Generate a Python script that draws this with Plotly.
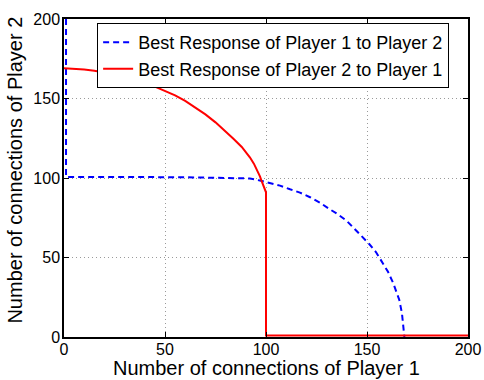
import plotly.graph_objects as go

# Best response of Player 2 (y) as a function of Player 1's connections (x)
p2_x = [0, 5, 10, 15, 20, 25, 30, 35, 40, 45, 50, 55, 60, 65, 70, 75, 80, 84, 88, 90, 92, 94,
        95, 96, 97, 98, 98.5, 99, 99.5, 100, 100, 200]
p2_y = [169, 168.8, 168.3, 167.5, 166.5, 165.2, 163.7, 161.9, 159.8, 157.5, 155, 152, 148.5, 144.5,
        140, 135, 129.5, 124.5, 119.5, 116.5, 113, 109,
        106.5, 104, 101, 97.5, 95.5, 93.5, 92, 91, 1, 1]

# Best response of Player 1 (x) as a function of Player 2's connections (y)
p1_x = [1, 1, 60, 85, 92, 97, 102, 106.9, 111.9, 116.8, 121.8, 126.7, 130.9, 135.3, 140,
        143.6, 147.4, 151.1, 154.5, 157.3, 160.4, 163, 166, 167.3, 168.3, 168.5]
p1_y = [200, 100.7, 100.5, 100.2, 99.7, 98.4, 97, 95.2, 92.9, 90.8, 87.9, 84.5, 80.9, 77.4, 73,
        68.4, 63.5, 58.5, 53.3, 47.4, 41, 33.8, 23.3, 14.9, 3.3, 0]

tick_vals = [0, 50, 100, 150, 200]
tick_text = ["0", "50", "100", "150", "200"]

FONT = "Liberation Sans, Arial, Helvetica, sans-serif"

fig = go.Figure()
fig.add_trace(go.Scatter(
    x=p1_x, y=p1_y, mode="lines",
    name="Best Response of Player 1 to Player 2",
    line=dict(color="#0000ff", width=2, dash="6px,4px"),
))
fig.add_trace(go.Scatter(
    x=p2_x, y=p2_y, mode="lines",
    name="Best Response of Player 2 to Player 1",
    line=dict(color="#ff0000", width=2),
))

axis_common = dict(
    range=[0, 200],
    tickvals=tick_vals,
    ticktext=tick_text,
    ticks="inside",
    ticklen=5,
    tickwidth=1,
    tickcolor="black",
    showline=True,
    linecolor="black",
    linewidth=1.5,
    mirror="ticks",
    showgrid=True,
    gridcolor="#9a9a9a",
    gridwidth=1,
    griddash="1px,3px",
    zeroline=False,
    tickfont=dict(family=FONT, size=16, color="black"),
    fixedrange=True,
)

fig.update_xaxes(**axis_common, ticklabelstandoff=-3)
fig.update_yaxes(**axis_common, ticklabelstandoff=-1)

# Axis titles placed as annotations for exact positioning
fig.add_annotation(
    text="Number of connections of Player 1",
    xref="paper", yref="paper", x=0.5, y=-0.099,
    xanchor="center", yanchor="middle", showarrow=False,
    font=dict(family=FONT, size=20, color="black"),
)
fig.add_annotation(
    text="Number of connections of Player 2",
    xref="paper", yref="paper", x=-0.12, y=0.525,
    xanchor="center", yanchor="middle", showarrow=False, textangle=-90,
    font=dict(family=FONT, size=20, color="black"),
)

fig.update_layout(
    width=484, height=380,
    margin=dict(l=64, r=16, t=19, b=43, autoexpand=False),
    paper_bgcolor="white",
    plot_bgcolor="white",
    font=dict(family=FONT, color="black"),
    legend=dict(
        x=0.082, y=0.987, xanchor="left", yanchor="top",
        bgcolor="white", bordercolor="black", borderwidth=1,
        font=dict(family=FONT, size=18, color="black"),
        tracegroupgap=0, itemwidth=30,
    ),
    showlegend=True,
)

fig.write_html("out.html")
